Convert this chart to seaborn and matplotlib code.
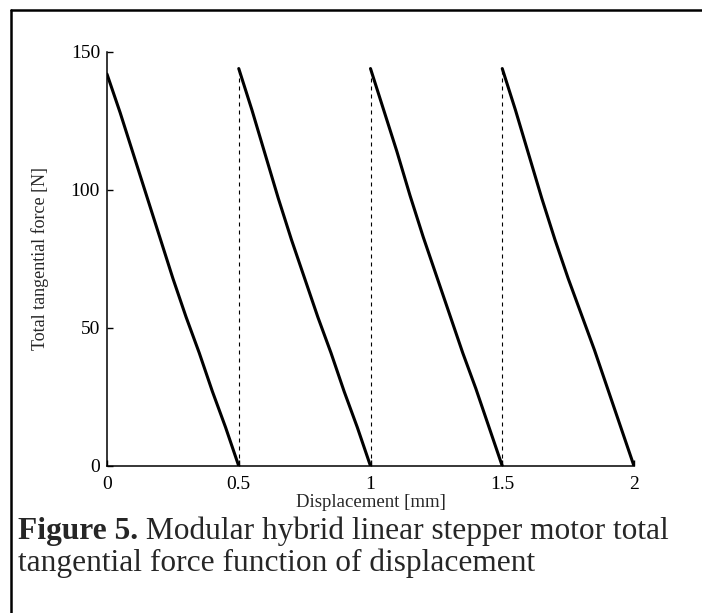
import matplotlib
matplotlib.use('Agg')
import matplotlib.pyplot as plt
import seaborn as sns
import pandas as pd
from matplotlib.lines import Line2D

# --- Data ---
seg1_disp = [0.00, 0.05, 0.10, 0.15, 0.20, 0.25, 0.30, 0.35, 0.40, 0.45, 0.50]
seg1_force = [142, 128, 113, 98, 83, 68, 54, 41, 27, 14, 0]
seg2_disp = [0.50, 0.55, 0.60, 0.65, 0.70, 0.75, 0.80, 0.85, 0.90, 0.95, 1.00]
seg2_force = [144, 129, 113, 97, 82, 68, 54, 41, 27, 14, 0]
seg3_disp = [1.00, 1.05, 1.10, 1.15, 1.20, 1.25, 1.30, 1.35, 1.40, 1.45, 1.50]
seg3_force = [144, 129, 114, 98, 83, 69, 55, 41, 28, 14, 0]
seg4_disp = [1.50, 1.55, 1.60, 1.65, 1.70, 1.75, 1.80, 1.85, 1.90, 1.95, 2.00]
seg4_force = [144, 129, 113, 97, 82, 68, 55, 42, 28, 14, 0]

step_disp = [0.5, 1.0, 1.5]
step_peak = [144, 144, 144]

x_ticks = [0, 0.5, 1, 1.5, 2]
x_ticklabels = ['0', '0.5', '1', '1.5', '2']
y_ticks = [0, 50, 100, 150]

caption_bold = 'Figure 5.'
caption_line1 = ' Modular hybrid linear stepper motor total'
caption_line2 = 'tangential force function of displacement'

segments = [(seg1_disp, seg1_force), (seg2_disp, seg2_force),
            (seg3_disp, seg3_force), (seg4_disp, seg4_force)]
frames = []
for i, (d, f) in enumerate(segments):
    frames.append(pd.DataFrame({'disp': d, 'force': f, 'seg': i}))
df = pd.concat(frames, ignore_index=True)

# --- Style ---
sns.set_style('ticks')
plt.rcParams['font.family'] = ['Liberation Serif', 'DejaVu Serif']

W, H = 702, 613
fig = plt.figure(figsize=(W / 100, H / 100), dpi=100)
ax = fig.add_axes([107 / W, 1 - 466 / H, (634 - 107) / W, (466 - 52) / H])

sns.lineplot(data=df, x='disp', y='force', units='seg', estimator=None,
             sort=False, color='black', linewidth=2.2, ax=ax)
ax.vlines(step_disp, 0, step_peak, colors='black', linewidth=0.8,
          linestyles=(0, (3.6, 3.6)))

ax.set_xlim(0, 2)
ax.set_ylim(0, 150)
ax.set_xticks(x_ticks)
ax.set_xticklabels(x_ticklabels)
ax.set_yticks(y_ticks)
sns.despine(ax=ax)
for s in ['left', 'bottom']:
    ax.spines[s].set_linewidth(1.1)
    ax.spines[s].set_color('black')
ax.tick_params(direction='in', length=4, width=1, colors='black',
               labelsize=14)
ax.tick_params(axis='x', pad=7)
ax.tick_params(axis='y', pad=5)

ax.set_xlabel('Displacement [mm]', fontsize=13.5)
ax.set_ylabel('Total tangential force [N]', fontsize=13)
ax.xaxis.set_label_coords(0.5, (466 - 494) / 414)
ax.yaxis.set_label_coords((49 - 107) / 527, 0.5)

# --- Caption ---
bold = fig.text(18 / W, 1 - 539 / H, caption_bold, fontsize=22.6,
                fontweight='bold', va='baseline', ha='left')
ax.annotate(caption_line1, xy=(1, 0), xycoords=bold, fontsize=22.6,
            va='bottom', ha='left', annotation_clip=False)
fig.text(18 / W, 1 - 571 / H, caption_line2, fontsize=22.6,
         va='baseline', ha='left')

# --- Outer frame (top and left edges) ---
fig.add_artist(Line2D([11 / W, 1], [1 - 10 / H, 1 - 10 / H],
                      transform=fig.transFigure, color='black', linewidth=1.8))
fig.add_artist(Line2D([11 / W, 11 / W], [1 - 10 / H, 0],
                      transform=fig.transFigure, color='black', linewidth=1.8))

fig.savefig('out.png', dpi=100)
